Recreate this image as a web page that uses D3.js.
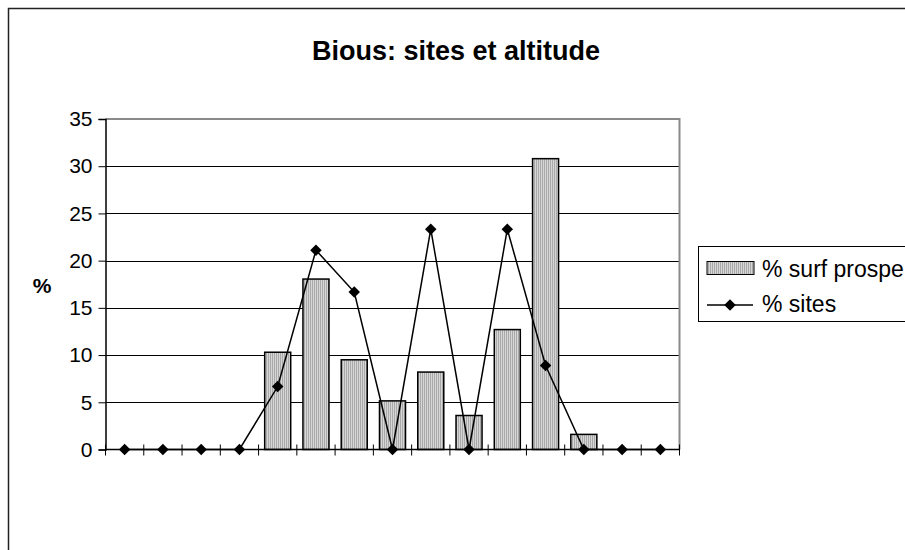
<!DOCTYPE html>
<html>
<head>
<meta charset="utf-8">
<script src="https://cdn.jsdelivr.net/npm/d3@7"></script>
<style>
  html, body { margin: 0; padding: 0; background: #fff; }
  svg { display: block; font-family: "Liberation Sans", Arial, sans-serif; }
</style>
</head>
<body>
<svg id="chart" width="905" height="550"></svg>
<script>
// Altitude classes (unlabelled on the axis)
const classes = ["c1","c2","c3","c4","c5","c6","c7","c8","c9","c10","c11","c12","c13","c14","c15"];
// % of prospected surface per altitude class
const surfProspe = [0, 0, 0, 0, 10.3, 18.05, 9.5, 5.15, 8.2, 3.6, 12.7, 30.8, 1.6, 0, 0];
// % of sites per altitude class (90 sites)
const sitesPct = [0, 0, 0, 0, 6.67, 21.11, 16.67, 0, 23.33, 0, 23.33, 8.89, 0, 0, 0];
const yTicks = [0, 5, 10, 15, 20, 25, 30, 35];
const seriesNames = ["% surf prospe", "% sites"];
const chartTitle = "Bious: sites et altitude";
const yLabel = "%";

const svg = d3.select("#chart");
const plot = { left: 105.5, right: 679.5, top: 119, bottom: 449.5 };

const x = d3.scaleBand().domain(classes)
  .range([plot.left, plot.right]).paddingInner(0.32).paddingOuter(0.16);
const xc = d => x(d) + x.bandwidth() / 2;
const y = d3.scaleLinear().domain([0, 35]).range([plot.bottom, plot.top]);

// vertical stripe fill for the bars
const defs = svg.append("defs");
const pat = defs.append("pattern").attr("id", "stripes")
  .attr("patternUnits", "userSpaceOnUse").attr("width", 2).attr("height", 4);
pat.append("rect").attr("width", 2).attr("height", 4).attr("fill", "#d6d6d6");
pat.append("rect").attr("width", 1).attr("height", 4).attr("fill", "#a9a9a9");

// outer chart frame
svg.append("rect").attr("x", 8.5).attr("y", 8.5).attr("width", 920).attr("height", 560)
  .attr("fill", "#fff").attr("stroke", "#222").attr("stroke-width", 1.5);

// title
svg.append("text").attr("x", 456).attr("y", 60).attr("text-anchor", "middle")
  .attr("font-size", 27).attr("font-weight", "bold").text(chartTitle);

// gridlines
svg.append("g").selectAll("line").data(yTicks.filter(t => t > 0 && t < 35)).join("line")
  .attr("x1", plot.left).attr("x2", plot.right)
  .attr("y1", d => Math.round(y(d)) + 0.5).attr("y2", d => Math.round(y(d)) + 0.5)
  .attr("stroke", "#000").attr("stroke-width", 1);

// plot border (top and right)
svg.append("path")
  .attr("d", `M${plot.left},${y(35)}H${plot.right}V${plot.bottom}`)
  .attr("fill", "none").attr("stroke", "#8a8a8a").attr("stroke-width", 2);

// bars
svg.append("g").selectAll("rect").data(classes.map((c, i) => ({ c, v: surfProspe[i] })).filter(d => d.v > 0))
  .join("rect")
  .attr("x", d => x(d.c)).attr("width", x.bandwidth())
  .attr("y", d => y(d.v)).attr("height", d => y(0) - y(d.v))
  .attr("fill", "url(#stripes)").attr("stroke", "#000").attr("stroke-width", 1.5);

// y axis
const yAxis = d3.axisLeft(y).tickValues(yTicks).tickSize(7).tickPadding(6);
const gy = svg.append("g").attr("transform", `translate(${plot.left},0)`).call(yAxis);
gy.select(".domain").attr("stroke", "#000").attr("stroke-width", 1.5);
gy.selectAll(".tick line").attr("stroke", "#000");
gy.selectAll(".tick text").attr("font-size", 21).attr("fill", "#000")
  .attr("font-family", "Liberation Sans, Arial, sans-serif");

// x axis with crossing tick marks at class boundaries
const bounds = d3.range(classes.length + 1).map(i => plot.left + i * x.step());
svg.append("line").attr("x1", plot.left).attr("x2", plot.right)
  .attr("y1", plot.bottom).attr("y2", plot.bottom).attr("stroke", "#000").attr("stroke-width", 1.5);
svg.append("g").selectAll("line").data(bounds).join("line")
  .attr("x1", d => d).attr("x2", d => d)
  .attr("y1", plot.bottom - 5).attr("y2", plot.bottom + 6)
  .attr("stroke", "#000").attr("stroke-width", 1);

// y label
svg.append("text").attr("x", 42).attr("y", 293).attr("text-anchor", "middle")
  .attr("font-size", 21).attr("font-weight", "bold").text(yLabel);

// sites line with diamond markers
const line = d3.line().x((d, i) => xc(classes[i])).y(d => y(d));
svg.append("path").datum(sitesPct).attr("d", line)
  .attr("fill", "none").attr("stroke", "#000").attr("stroke-width", 1.5);
svg.append("g").selectAll("path").data(sitesPct).join("path")
  .attr("transform", (d, i) => `translate(${xc(classes[i])},${y(d)}) rotate(45)`)
  .attr("d", d3.symbol().type(d3.symbolSquare).size(66))
  .attr("fill", "#000");

// legend
const lg = svg.append("g");
lg.append("rect").attr("x", 698.5).attr("y", 246.5).attr("width", 230).attr("height", 75)
  .attr("fill", "#fff").attr("stroke", "#000").attr("stroke-width", 1);
lg.append("rect").attr("x", 707).attr("y", 261.5).attr("width", 47).attr("height", 13)
  .attr("fill", "url(#stripes)").attr("stroke", "#000").attr("stroke-width", 1);
lg.append("text").attr("x", 762).attr("y", 277).attr("font-size", 23).text(seriesNames[0]);
lg.append("line").attr("x1", 707).attr("x2", 753).attr("y1", 305).attr("y2", 305)
  .attr("stroke", "#000").attr("stroke-width", 1.5);
lg.append("path").attr("transform", "translate(730,305) rotate(45)")
  .attr("d", d3.symbol().type(d3.symbolSquare).size(66)).attr("fill", "#000");
lg.append("text").attr("x", 762).attr("y", 312).attr("font-size", 23).text(seriesNames[1]);
</script>
</body>
</html>
